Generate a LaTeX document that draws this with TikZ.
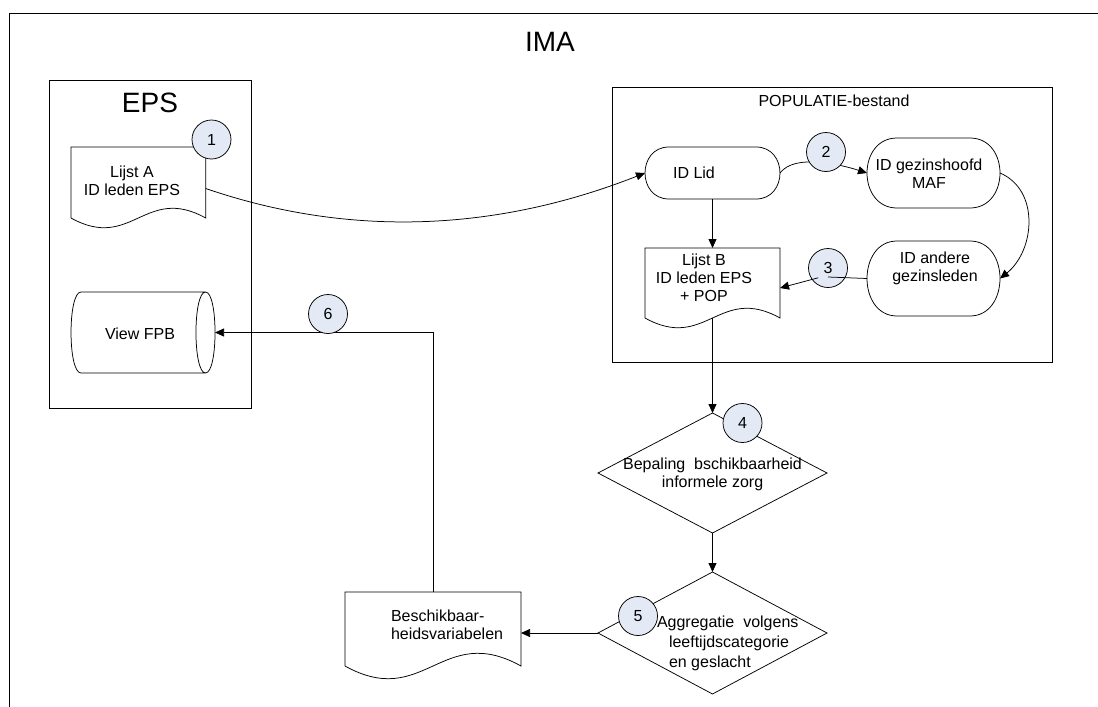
\documentclass[tikz,border=0pt]{standalone}
\usepackage{fontspec}
\setmainfont{Liberation Sans}
\usetikzlibrary{calc,shapes.geometric,arrows.meta}
\definecolor{circfill}{RGB}{228,234,245}

\newcommand\docoutline[1]{%
  \draw let \p1=(#1.north west), \p2=(#1.south east), \n1={\x2-\x1} in
    (\x1,\y2) -- (\x1,\y1) -- (\x2,\y1) -- (\x2,\y2)
    .. controls ({\x1+0.55*\n1},{\y2+0.25*\n1}) and ({\x1+0.45*\n1},{\y2-0.25*\n1}) .. (\x1,\y2);}
\newcommand\termoutline[2]{%
  \draw let \p1=(#1.north west), \p2=(#1.south east) in
    ({\x1+#2pt},\y1) -- ({\x2-#2pt},\y1)
    .. controls ({\x2+0.333*#2pt},\y1) and ({\x2+0.333*#2pt},\y2) .. ({\x2-#2pt},\y2)
    -- ({\x1+#2pt},\y2)
    .. controls ({\x1-0.333*#2pt},\y2) and ({\x1-0.333*#2pt},\y1) .. cycle;}

\begin{document}
\begin{tikzpicture}[x=1pt,y=-1pt,line width=0.75pt,
  every node/.style={font=\fontsize{16}{18}\selectfont, inner sep=0pt, outer sep=0pt},
  shp/.style={rectangle, draw=none},
  container/.style={rectangle, draw},
  txt/.style={align=center},
  bigtitle/.style={font=\fontsize{28}{32}\selectfont},
  dia/.style={diamond, draw, minimum width=229pt},
  num/.style={circle, draw, fill=circfill, minimum size=39pt},
  arr/.style={-{Triangle[length=9pt,width=8pt]}}]
\useasboundingbox (0,0) rectangle (1098,707);

% outer frame (partially visible)
\draw (1098,13) -- (9,13) -- (9,707);
\node[bigtitle] (ima) at (550,42) {IMA};

% containers
\node[container, minimum width=202pt, minimum height=328pt] (eps) at (150,244) {};
\node[bigtitle] (epst) at (150,103) {EPS};
\node[container, minimum width=440pt, minimum height=275pt] (pop) at (832,224.5) {};
\node (popt) at (834,101) {POPULATIE-bestand};

% shape nodes
\node[shp, minimum width=134.7pt, minimum height=71pt] (lijstA) at (138.35,182.5) {};
\node[shp, minimum width=135pt, minimum height=70pt] (lijstB) at (712.5,283) {};
\node[shp, minimum width=176pt, minimum height=74pt] (besch) at (433,629) {};
\node[shp, minimum width=135pt, minimum height=52pt] (idlid) at (712.5,173) {};
\node[shp, minimum width=133pt, minimum height=70pt] (gezin) at (933.5,173) {};
\node[shp, minimum width=133pt, minimum height=75pt] (andere) at (933.5,278.5) {};
\node[shp, minimum width=144pt, minimum height=81pt] (view) at (143,332.5) {};
\node[dia, minimum height=120pt] (d4) at (712.5,473) {};
\node[dia, minimum height=122pt] (d5) at (712.5,633) {};

% outlines
\docoutline{lijstA}
\docoutline{lijstB}
\docoutline{besch}
\termoutline{idlid}{24}
\termoutline{gezin}{30}
\termoutline{andere}{30}
\draw let \p1=(view.north west), \p2=(view.south east) in
  ({\x2-9.5pt},\y1) -- ({\x1+10pt},\y1)
  .. controls ({\x1-3.3pt},\y1) and ({\x1-3.3pt},\y2) .. ({\x1+10pt},\y2)
  -- ({\x2-9.5pt},\y2)
  .. controls ({\x2+3.2pt},\y2) and ({\x2+3.2pt},\y1) .. ({\x2-9.5pt},\y1)
  .. controls ({\x2-22.2pt},\y1) and ({\x2-22.2pt},\y2) .. ({\x2-9.5pt},\y2);

% texts
\node[txt] (lijstAt) at (132,181) {Lijst A\\ID leden EPS};
\node[txt] (lijstBt) at (704,278) {Lijst B\\ID leden EPS\\+ POP};
\node[txt, align=left, anchor=west] (bescht) at (391,624.5) {Beschikbaar-\\heidsvariabelen};
\node[txt] (idlidt) at (694,173) {ID Lid};
\node[txt] (gezint) at (929,174) {ID gezinshoofd\\MAF};
\node[txt] (anderet) at (935,268.5) {ID andere\\gezinsleden};
\node[txt] (viewt) at (140,334) {View FPB};
\node[txt] (d4t) at (712.5,474) {Bepaling\ \ bschikbaarheid\\informele zorg};
\node[align=left, anchor=west, font=\fontsize{16}{20}\selectfont] (d5t) at (669,643)
  {\hspace*{-12pt}Aggregatie\ \ volgens\\leeftijdscategorie\\en geslacht};

% connectors
\draw[arr] ($(lijstA.east)+(0,6)$) .. controls +(143,49) and +(-150,59) .. (idlid.west);
\draw[arr] (idlid.east) .. controls +(15,-20) and +(-25,-8) .. (gezin.west);
\draw[arr] (gezin.east) .. controls +(40,17) and +(35,-28) .. (andere.east);
\draw[arr] (idlid.south) -- (lijstB.north);
\draw[arr] (lijstB.south) -- (d4.north);
\draw[arr] (d4.south) -- (d5.north);
\draw[arr] (d5.west) -- (d5.west -| besch.east);
\draw[arr] (besch.north) |- (view.east);

% numbered circles
\node[num] (c1) at (211.5,139.5) {1};
\node[num] (c2) at (826,152) {2};
\node[num] (c3) at (828,268) {3};
\node[num] (c4) at (742.5,423) {4};
\node[num] (c5) at (638,616) {5};
\node[num] (c6) at (328,314) {6};

\draw (andere.west) -- ($(c3.center)+(0,9)$);
\draw[arr] ($(c3.south west)+(4,-4)$) -- ($(lijstB.east)+(0,5)$);
\end{tikzpicture}
\end{document}
